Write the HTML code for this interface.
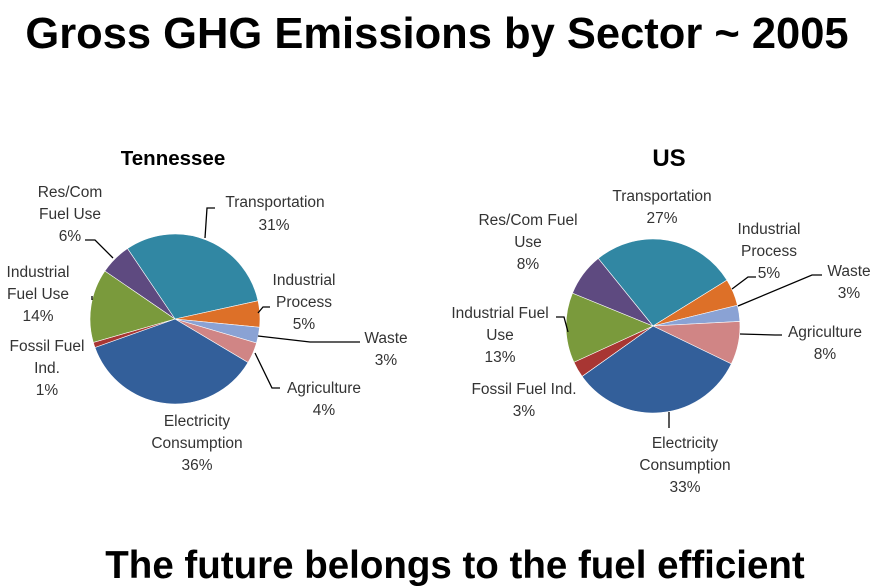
<!DOCTYPE html>
<html><head><meta charset="utf-8"><style>
html,body{margin:0;padding:0;background:#fff;}
svg{display:block;font-family:"Liberation Sans",sans-serif;}
.l{font-size:15.5px;fill:#333;text-anchor:middle;}
</style></head><body>
<svg id="s" width="876" height="587" viewBox="0 0 876 587">
<text x="437" y="48" text-anchor="middle" font-weight="bold" font-size="43.5" fill="#000">Gross GHG Emissions by Sector ~ 2005</text>
<text x="455" y="578" text-anchor="middle" font-weight="bold" font-size="38.5" fill="#000">The future belongs to the fuel efficient</text>
<text x="173" y="165" text-anchor="middle" font-weight="bold" font-size="20.5" fill="#000">Tennessee</text>
<text x="669" y="166" text-anchor="middle" font-weight="bold" font-size="24" fill="#000">US</text>
<g id="p1"></g><g id="p2"></g>
<g stroke="#000" stroke-width="1.3" fill="none">
<polyline points="85,240 95,240 113,258"/>
<polyline points="205,238 207,208 215,208"/>
<polyline points="258,313 263,307 270,307"/>
<polyline points="258,336 310,342 360,342"/>
<polyline points="255,353 272,388 280,388"/>
<polyline points="92,296 92,300"/>
<polyline points="669,412 669,428"/>
<polyline points="732,289 748,277 756,277"/>
<polyline points="738,306 812,275 822,275"/>
<polyline points="740,334 775,335 782,335"/>
<polyline points="556,317 564,317 568,332"/>
</g>
<g class="l">
<text class="l" x="70" y="197">Res/Com</text><text class="l" x="70" y="219">Fuel Use</text><text class="l" x="70" y="241">6%</text>
<text class="l" x="275" y="207">Transportation</text><text class="l" x="274" y="230">31%</text>
<text class="l" x="304" y="285">Industrial</text><text class="l" x="304" y="307">Process</text><text class="l" x="304" y="329">5%</text>
<text class="l" x="386" y="343">Waste</text><text class="l" x="386" y="365">3%</text>
<text class="l" x="324" y="393">Agriculture</text><text class="l" x="324" y="415">4%</text>
<text class="l" x="197" y="426">Electricity</text><text class="l" x="197" y="448">Consumption</text><text class="l" x="197" y="470">36%</text>
<text class="l" x="47" y="351">Fossil Fuel</text><text class="l" x="47" y="373">Ind.</text><text class="l" x="47" y="395">1%</text>
<text class="l" x="38" y="277">Industrial</text><text class="l" x="38" y="299">Fuel Use</text><text class="l" x="38" y="321">14%</text>
<text class="l" x="662" y="201">Transportation</text><text class="l" x="662" y="223">27%</text>
<text class="l" x="528" y="225">Res/Com Fuel</text><text class="l" x="528" y="247">Use</text><text class="l" x="528" y="269">8%</text>
<text class="l" x="769" y="234">Industrial</text><text class="l" x="769" y="256">Process</text><text class="l" x="769" y="278">5%</text>
<text class="l" x="849" y="276">Waste</text><text class="l" x="849" y="298">3%</text>
<text class="l" x="825" y="337">Agriculture</text><text class="l" x="825" y="359">8%</text>
<text class="l" x="500" y="318">Industrial Fuel</text><text class="l" x="500" y="340">Use</text><text class="l" x="500" y="362">13%</text>
<text class="l" x="524" y="394">Fossil Fuel Ind.</text><text class="l" x="524" y="416">3%</text>
<text class="l" x="685" y="448">Electricity</text><text class="l" x="685" y="470">Consumption</text><text class="l" x="685" y="492">33%</text>
</g>
</svg>
<script>
var C=["#3187A3","#DD7028","#8AA2D4","#D08585","#335F9A","#A83633","#7A9A3C","#5E4A80"];
function pie(id,cx,cy,r,st,v){var g=document.getElementById(id),t=0,s="";
var tot=v.reduce(function(a,b){return a+b},0);
for(var i=0;i<v.length;i++){var a0=(st+t/tot*360)*Math.PI/180;t+=v[i];var a1=(st+t/tot*360)*Math.PI/180;
var x0=cx+r*Math.sin(a0),y0=cy-r*Math.cos(a0),x1=cx+r*Math.sin(a1),y1=cy-r*Math.cos(a1);
var lg=(a1-a0)>Math.PI?1:0;
s+='<path d="M'+cx+','+cy+' L'+x0.toFixed(2)+','+y0.toFixed(2)+' A'+r+','+r+' 0 '+lg+' 1 '+x1.toFixed(2)+','+y1.toFixed(2)+' Z" fill="'+C[i]+'" stroke="#fff" stroke-width="0.6"/>';}
g.innerHTML=s;}
pie("p1",175,319,85,-34,[31,5,3,4,36,1,14,6]);
pie("p2",653,326,87,-39,[27,5,3,8,33,3,13,8]);
</script>
</body></html>
